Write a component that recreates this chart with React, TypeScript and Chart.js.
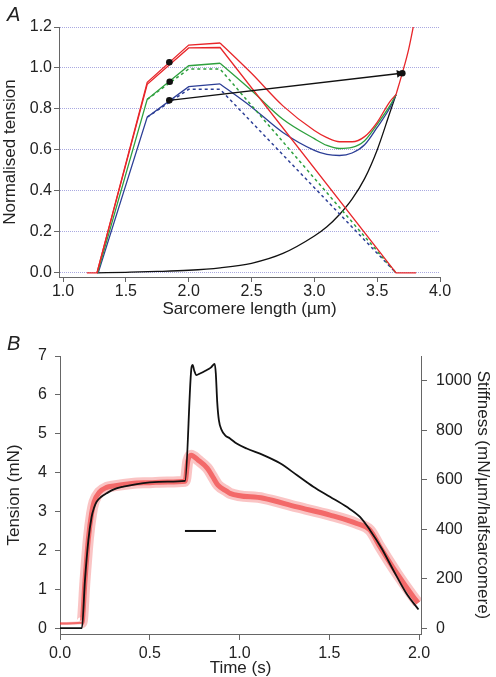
import React, { useEffect, useRef } from "react";
import { Chart, registerables } from "chart.js";
Chart.register(...registerables);

const FONT = "'Liberation Sans', Arial, Helvetica, sans-serif";

// ---------- Panel A data (sarcomere length µm, normalised tension) ----------
const passiveX = [1.27, 1.5, 1.75, 2.0, 2.25, 2.5, 2.75, 3.0, 3.1, 3.2, 3.3, 3.4, 3.5, 3.6, 3.65];
const passiveY = [0, 0.003, 0.007, 0.013, 0.025, 0.047, 0.095, 0.18, 0.225, 0.285, 0.36, 0.46, 0.6, 0.78, 0.87];

const redLowX = [1.19, 1.27, 1.67, 2.0, 2.25, 3.65, 3.81];
const redLowY = [0, 0, 0.92, 1.098, 1.1, 0, 0];

const redRiseX = [1.27, 1.67, 2.0, 2.25];
const redRiseY = [0, 0.93, 1.112, 1.122];
const greenRiseX = [1.275, 1.67, 2.0, 2.25];
const greenRiseY = [0, 0.847, 1.011, 1.023];
const blueRiseX = [1.28, 1.67, 2.0, 2.25];
const blueRiseY = [0, 0.76, 0.909, 0.922];

const uX = [2.25, 2.5, 2.75, 3.0, 3.1, 3.2, 3.3, 3.4, 3.5, 3.6, 3.65];
const redUY = [1.122, 0.974, 0.815, 0.695, 0.66, 0.64, 0.64, 0.665, 0.735, 0.835, 0.87];
const greenUY = [1.023, 0.89, 0.75, 0.655, 0.622, 0.607, 0.612, 0.645, 0.725, 0.815, 0.87];
const blueUY = [0.922, 0.81, 0.685, 0.598, 0.578, 0.573, 0.585, 0.625, 0.71, 0.805, 0.87];
const redTailX = [3.65, 3.7, 3.75, 3.8];
const redTailY = [0.87, 0.975, 1.09, 1.24];

const greenDashX = [1.67, 2.0, 2.25, 3.65];
const greenDashY = [0.847, 0.995, 0.995, 0];
const blueDashX = [1.67, 2.0, 2.25, 3.65];
const blueDashY = [0.76, 0.896, 0.896, 0];

const dotX = [1.846, 1.849, 1.846, 3.7];
const dotY = [1.028, 0.933, 0.842, 0.974];
const arrowX = [1.846, 3.675];
const arrowY = [0.842, 0.973];

const aXTicks = [1.0, 1.5, 2.0, 2.5, 3.0, 3.5, 4.0];
const aYTicks = [0, 0.2, 0.4, 0.6, 0.8, 1.0, 1.2];

// ---------- Panel B data (time s) ----------
const tensionT = [0, 0.122, 0.139, 0.158, 0.176, 0.19, 0.204, 0.23, 0.26, 0.3, 0.353, 0.42, 0.5, 0.6, 0.697, 0.733, 0.739, 0.748, 0.76, 0.78, 0.81, 0.84, 0.862, 0.868, 0.876, 0.885, 0.9, 0.92, 0.947, 0.984, 1.04, 1.133, 1.226, 1.319, 1.411, 1.504, 1.597, 1.671, 1.727, 1.792, 1.857, 1.93, 1.997];
const tensionMN = [0, 0, 1.23, 2.26, 2.86, 3.1, 3.25, 3.38, 3.47, 3.57, 3.64, 3.7, 3.75, 3.77, 3.79, 6.72, 6.77, 6.62, 6.51, 6.55, 6.62, 6.7, 6.8, 6.55, 5.8, 5.35, 5.1, 4.96, 4.88, 4.75, 4.62, 4.45, 4.24, 3.94, 3.64, 3.38, 3.12, 2.86, 2.52, 2.05, 1.49, 0.89, 0.48];

const stiffT = [0, 0.122, 0.139, 0.158, 0.176, 0.19, 0.22, 0.26, 0.3, 0.4, 0.5, 0.6, 0.697, 0.712, 0.73, 0.77, 0.82, 0.85, 0.88, 0.93, 0.947, 1.133, 1.319, 1.504, 1.653, 1.727, 1.783, 1.876, 1.968, 1.995];
const stiffness = [19, 22, 189, 361, 464, 511, 550, 569, 575, 585, 588, 591, 594, 676, 699, 679, 647, 613, 578, 553, 545, 525, 490, 457, 423, 396, 328, 222, 127, 102];

const barT = [0.696, 0.869];
const barY = [2.5, 2.5];

const bXTicks = [0, 0.5, 1.0, 1.5, 2.0];
const bLeftTicks = [0, 1, 2, 3, 4, 5, 6, 7];
const bRightTicks = [0, 200, 400, 600, 800, 1000];

const RED = "rgb(232,38,42)";
const GREEN = "rgb(46,160,62)";
const BLUE = "rgb(44,62,150)";
const BLACK = "#111";
const AXIS = "#666";
const TXT = "#222";

const pts = (xs: number[], ys: number[]) => xs.map((x, i) => ({ x, y: ys[i] }));

function line(label: string, xs: number[], ys: number[], color: any, extra: any = {}) {
  return {
    label,
    data: pts(xs, ys),
    borderColor: color,
    backgroundColor: color,
    borderWidth: 1.3,
    pointRadius: 0,
    fill: false,
    tension: 0,
    ...extra,
  };
}

const tickFont = { family: FONT, size: 16 };
const titleFont = { family: FONT, size: 17 };

function configA(): any {
  const smooth = { cubicInterpolationMode: "monotone" };
  return {
    type: "line",
    data: {
      datasets: [
        {
          label: "dots",
          data: pts(dotX, dotY),
          showLine: false,
          pointRadius: 3.3,
          pointBackgroundColor: BLACK,
          pointBorderWidth: 0,
          borderColor: BLACK,
        },
        line("arrow", arrowX, arrowY, BLACK, {
          pointRadius: [0, 4.5],
          pointStyle: "triangle",
          pointRotation: [0, 83],
          pointBackgroundColor: BLACK,
          pointBorderColor: BLACK,
          pointBorderWidth: 0,
        }),
        line("redRise", redRiseX, redRiseY, RED),
        line("redU", uX, redUY, RED, smooth),
        line("redTail", redTailX, redTailY, RED, smooth),
        line("redLow", redLowX, redLowY, RED),
        line("greenRise", greenRiseX, greenRiseY, GREEN),
        line("greenU", uX, greenUY, GREEN, smooth),
        line("greenDash", greenDashX, greenDashY, GREEN, { borderDash: [3, 3], borderWidth: 1.5 }),
        line("blueRise", blueRiseX, blueRiseY, BLUE),
        line("blueU", uX, blueUY, BLUE, smooth),
        line("blueDash", blueDashX, blueDashY, BLUE, { borderDash: [3, 3], borderWidth: 1.5 }),
        line("passive", passiveX, passiveY, BLACK, smooth),
      ],
    },
    options: {
      responsive: false,
      animation: false,
      events: [],
      layout: { padding: { left: 0, top: 27, right: 56, bottom: 0 } },
      plugins: { legend: { display: false }, tooltip: { enabled: false } },
      scales: {
        x: {
          type: "linear",
          position: "bottom",
          min: 0.968,
          max: 4.0,
          afterFit: (s: any) => { s.height = 48; },
          afterBuildTicks: (s: any) => { s.ticks = aXTicks.map((v) => ({ value: v })); },
          ticks: { font: tickFont, color: TXT, padding: 0, maxRotation: 0, callback: (v: any) => Number(v).toFixed(1) },
          grid: { drawOnChartArea: false, drawTicks: true, tickLength: 5, tickColor: AXIS },
          border: { display: true, color: AXIS, width: 1 },
          title: { display: true, text: "Sarcomere length (µm)", font: titleFont, color: TXT, padding: { top: 0, bottom: 5 } },
        },
        y: {
          type: "linear",
          position: "left",
          min: -0.02,
          max: 1.2,
          afterFit: (s: any) => { s.width = 59; },
          afterBuildTicks: (s: any) => { s.ticks = aYTicks.map((v) => ({ value: v })); },
          ticks: { font: tickFont, color: TXT, padding: 2, callback: (v: any) => Number(v).toFixed(1) },
          grid: {
            drawOnChartArea: true,
            drawTicks: true,
            tickLength: 5,
            color: "rgba(140,140,215,0.75)",
            tickColor: AXIS,
            tickBorderDash: [],
            lineWidth: 1,
          },
          border: { display: true, color: AXIS, width: 1, dash: [1, 1] },
          title: { display: true, text: "Normalised tension", font: titleFont, color: TXT, padding: { top: 0, bottom: 0 } },
        },
      },
    },
  };
}

function configB(): any {
  const smooth = { cubicInterpolationMode: "monotone" };
  const thinStart = (w: number) => ({
    borderWidth: (ctx: any) => (ctx.p0.parsed.x < 0.12 ? w : undefined),
  });
  return {
    type: "line",
    data: {
      datasets: [
        line("bar", barT, barY, BLACK, { borderWidth: 2, yAxisID: "y" }),
        line("tension", tensionT, tensionMN, BLACK, { borderWidth: 1.8, yAxisID: "y", ...smooth }),
        line("stiffness", stiffT, stiffness, "rgba(236,30,30,0.55)", {
          borderWidth: 5,
          yAxisID: "y1",
          ...smooth,
          segment: thinStart(2),
        }),
        line("stiffness spread", stiffT, stiffness, "rgba(240,60,60,0.3)", {
          borderWidth: 11,
          yAxisID: "y1",
          ...smooth,
          segment: thinStart(3),
        }),
      ],
    },
    options: {
      responsive: false,
      animation: false,
      events: [],
      layout: { padding: { left: 0, top: 31, right: 0, bottom: 0 } },
      plugins: { legend: { display: false }, tooltip: { enabled: false } },
      scales: {
        x: {
          type: "linear",
          position: "bottom",
          min: 0,
          max: 2.011,
          afterFit: (s: any) => { s.height = 43; },
          afterBuildTicks: (s: any) => { s.ticks = bXTicks.map((v) => ({ value: v })); },
          ticks: { font: tickFont, color: TXT, padding: 4, maxRotation: 0, callback: (v: any) => Number(v).toFixed(1) },
          grid: { drawOnChartArea: false, drawTicks: true, tickLength: 6, tickColor: AXIS },
          border: { display: true, color: AXIS, width: 1 },
          title: { display: true, text: "Time (s)", font: titleFont, color: TXT, padding: { top: 0, bottom: -2 } },
        },
        y: {
          type: "linear",
          position: "left",
          min: -0.15,
          max: 7,
          afterFit: (s: any) => { s.width = 60; },
          afterBuildTicks: (s: any) => { s.ticks = bLeftTicks.map((v) => ({ value: v })); },
          ticks: { font: tickFont, color: TXT, padding: 8, callback: (v: any) => String(v) },
          grid: { drawOnChartArea: false, drawTicks: true, tickLength: 5, tickColor: AXIS },
          border: { display: true, color: AXIS, width: 1 },
          title: { display: true, text: "Tension (mN)", font: titleFont, color: TXT, padding: { top: 4, bottom: 0 } },
        },
        y1: {
          type: "linear",
          position: "right",
          min: -23.6,
          max: 1100,
          afterFit: (s: any) => { s.width = 75; },
          afterBuildTicks: (s: any) => { s.ticks = bRightTicks.map((v) => ({ value: v })); },
          ticks: { font: tickFont, color: TXT, padding: 9, callback: (v: any) => String(v) },
          grid: { drawOnChartArea: false, drawTicks: true, tickLength: 6, tickColor: AXIS },
          border: { display: true, color: AXIS, width: 1 },
          title: { display: true, text: "Stiffness (mN/µm/halfsarcomere)", font: titleFont, color: TXT, padding: { top: 3, bottom: 0 } },
        },
      },
    },
  };
}

export default function App() {
  const refA = useRef<HTMLCanvasElement>(null);
  const refB = useRef<HTMLCanvasElement>(null);
  useEffect(() => {
    const a = new Chart(refA.current as HTMLCanvasElement, configA());
    const b = new Chart(refB.current as HTMLCanvasElement, configB());
    return () => {
      a.destroy();
      b.destroy();
    };
  }, []);
  const labelStyle: React.CSSProperties = {
    position: "absolute",
    fontFamily: FONT,
    fontStyle: "italic",
    fontSize: 20,
    lineHeight: "20px",
    color: TXT,
  };
  return (
    <div style={{ position: "fixed", left: 0, top: 0, width: 496, height: 677, background: "#fff", overflow: "hidden" }}>
      <canvas ref={refA} width={496} height={325} style={{ position: "absolute", left: 0, top: 0, width: 496, height: 325 }} />
      <canvas ref={refB} width={496} height={352} style={{ position: "absolute", left: 0, top: 325, width: 496, height: 352 }} />
      <div style={{ ...labelStyle, left: 7, top: 4 }}>A</div>
      <div style={{ ...labelStyle, left: 7, top: 333 }}>B</div>
    </div>
  );
}
